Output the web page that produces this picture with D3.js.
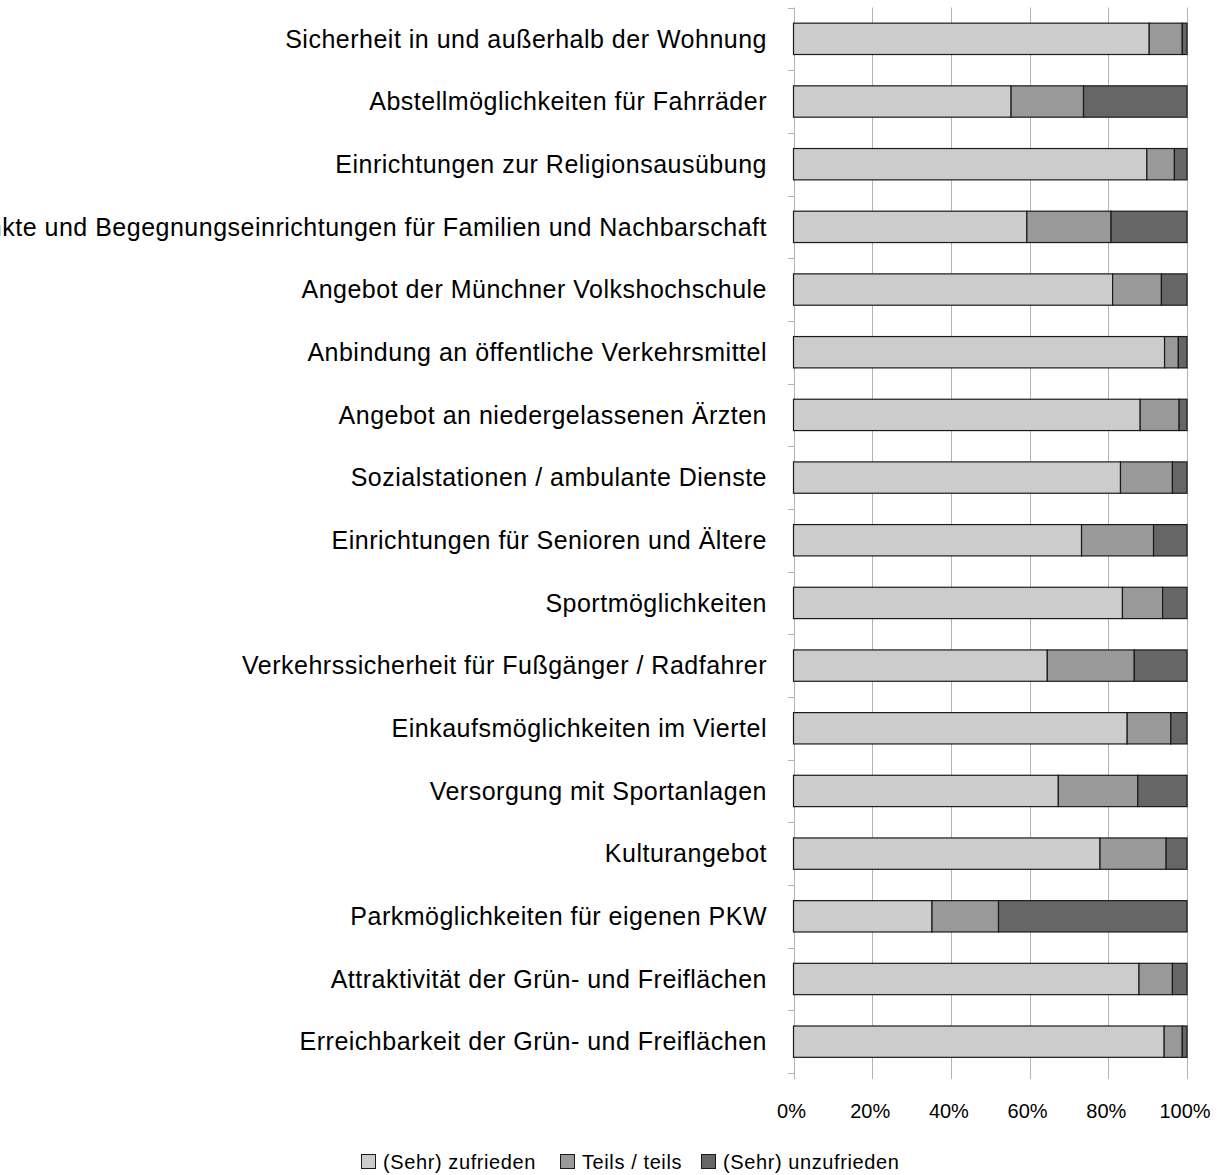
<!DOCTYPE html>
<html>
<head>
<meta charset="utf-8">
<script src="https://cdn.jsdelivr.net/npm/d3@7"></script>
<style>
  html, body { margin: 0; padding: 0; background: #fff; }
  svg { display: block; font-family: "Liberation Sans", Arial, sans-serif; }
</style>
</head>
<body>
<svg id="chart" width="1222" height="1175"></svg>
<script>
// Zufriedenheit mit Angeboten im Viertel (Anteile je Antwortkategorie)
const categories = [
  "Sicherheit in und außerhalb der Wohnung",
  "Abstellmöglichkeiten für Fahrräder",
  "Einrichtungen zur Religionsausübung",
  "Treffpunkte und Begegnungseinrichtungen für Familien und Nachbarschaft",
  "Angebot der Münchner Volkshochschule",
  "Anbindung an öffentliche Verkehrsmittel",
  "Angebot an niedergelassenen Ärzten",
  "Sozialstationen / ambulante Dienste",
  "Einrichtungen für Senioren und Ältere",
  "Sportmöglichkeiten",
  "Verkehrssicherheit für Fußgänger / Radfahrer",
  "Einkaufsmöglichkeiten im Viertel",
  "Versorgung mit Sportanlagen",
  "Kulturangebot",
  "Parkmöglichkeiten für eigenen PKW",
  "Attraktivität der Grün- und Freiflächen",
  "Erreichbarkeit der Grün- und Freiflächen"
];

const seriesNames = ["(Sehr) zufrieden", "Teils / teils", "(Sehr) unzufrieden"];

const zufrieden   = [90.4, 55.3, 89.8, 59.3, 81.1, 94.3, 88.1, 83.1, 73.2, 83.6, 64.5, 84.8, 67.3, 77.9, 35.2, 87.8, 94.2];
const teilsTeils  = [ 8.4, 18.4,  7.0, 21.4, 12.4,  3.5,  9.9, 13.2, 18.3, 10.2, 22.1, 11.1, 20.2, 16.8, 16.9,  8.5,  4.6];
const unzufrieden = [ 1.2, 26.3,  3.2, 19.3,  6.5,  2.2,  2.0,  3.7,  8.5,  6.2, 13.4,  4.1, 12.5,  5.3, 47.9,  3.7,  1.2];

const tickValues = [0, 0.2, 0.4, 0.6, 0.8, 1.0];

const colors = ["#cccccc", "#999999", "#666666"];

// Table for the stack layout
const rows = categories.map((c, i) => ({
  cat: c,
  s0: zufrieden[i],
  s1: teilsTeils[i],
  s2: unzufrieden[i]
}));

const stack = d3.stack()
  .keys(["s0", "s1", "s2"])
  .offset(d3.stackOffsetExpand);
const layers = stack(rows);

const svg = d3.select("#chart");

const plot = { left: 793.5, right: 1187, top: 7.5, bottom: 1073 };

const x = d3.scaleLinear().domain([0, 1]).range([plot.left, plot.right]);
const y = d3.scaleBand()
  .domain(categories)
  .range([plot.top, plot.bottom])
  .paddingInner(0.5)
  .paddingOuter(0.25);

const step = y.step();

// Vertical grid lines (extend below the plot as x-axis ticks)
svg.append("g")
  .selectAll("line")
  .data(tickValues)
  .join("line")
  .attr("x1", d => Math.round(x(d)) + 0.5)
  .attr("x2", d => Math.round(x(d)) + 0.5)
  .attr("y1", plot.top)
  .attr("y2", plot.bottom + 6)
  .attr("stroke", "#b3b3b3")
  .attr("stroke-width", 1);

// Category axis with ticks between rows
const boundaries = d3.range(categories.length + 1).map(i => plot.top + i * step);
svg.append("g")
  .selectAll("line")
  .data(boundaries)
  .join("line")
  .attr("x1", Math.round(plot.left) - 6)
  .attr("x2", Math.round(plot.left))
  .attr("y1", d => Math.round(d) + 0.5)
  .attr("y2", d => Math.round(d) + 0.5)
  .attr("stroke", "#b3b3b3");

// Stacked bars
svg.append("g")
  .selectAll("g")
  .data(layers)
  .join("g")
  .attr("fill", (d, i) => colors[i])
  .selectAll("rect")
  .data(d => d)
  .join("rect")
  .attr("x", d => x(d[0]))
  .attr("y", d => y(d.data.cat))
  .attr("width", d => x(d[1]) - x(d[0]))
  .attr("height", y.bandwidth())
  .attr("stroke", "#1a1a1a")
  .attr("stroke-width", 1.2);

// Category labels
svg.append("g")
  .selectAll("text")
  .data(categories)
  .join("text")
  .attr("x", 767)
  .attr("y", d => y(d) + y.bandwidth() / 2)
  .attr("dy", "0.35em")
  .attr("text-anchor", "end")
  .attr("font-size", 25)
  .attr("letter-spacing", 0.5)
  .attr("fill", "#000")
  .text(d => d);

// Percentage tick labels
const fmt = d3.format(".0%");
svg.append("g")
  .selectAll("text")
  .data(tickValues)
  .join("text")
  .attr("x", d => x(d) - 2)
  .attr("y", 1111)
  .attr("dy", "0.35em")
  .attr("text-anchor", "middle")
  .attr("font-size", 20)
  .attr("fill", "#000")
  .text(d => fmt(d));

// Legend
const legendX = [361, 560, 701];
const legend = svg.append("g")
  .selectAll("g")
  .data(seriesNames)
  .join("g")
  .attr("transform", (d, i) => `translate(${legendX[i]},1162)`);
legend.append("rect")
  .attr("x", 0.5)
  .attr("y", -7.5)
  .attr("width", 14)
  .attr("height", 14)
  .attr("fill", (d, i) => colors[i])
  .attr("stroke", "#1a1a1a")
  .attr("stroke-width", 1);
legend.append("text")
  .attr("x", 22)
  .attr("y", 0)
  .attr("dy", "0.35em")
  .attr("font-size", 20)
  .attr("letter-spacing", 0.6)
  .attr("fill", "#000")
  .text(d => d);
</script>
</body>
</html>
